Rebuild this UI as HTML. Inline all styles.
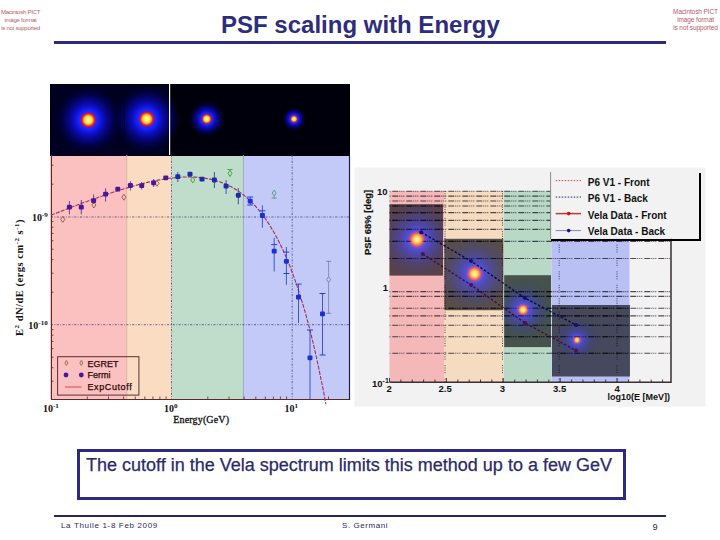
<!DOCTYPE html>
<html><head><meta charset="utf-8">
<style>
html,body{margin:0;padding:0;background:#fff;}
body{width:720px;height:540px;position:relative;overflow:hidden;font-family:"Liberation Sans",sans-serif;}
.abs{position:absolute;white-space:nowrap;}
.pict{position:absolute;color:#b85a6a;font-size:6px;line-height:8px;text-align:center;letter-spacing:-0.25px;}
</style></head><body>
<div class="pict" style="left:-3.5px;top:8px;width:48px;">Macintosh PICT<br>image format<br>is not supported</div>
<div class="pict" style="left:671.5px;top:8px;width:48px;font-size:6.5px;letter-spacing:-0.1px;">Macintosh PICT<br>image format<br>is not supported</div>
<div class="abs" style="left:221px;top:9.5px;font-size:24px;font-weight:bold;color:#2d2d7d;line-height:30px;">PSF scaling with Energy</div>
<div class="abs" style="left:54px;top:41px;width:612px;height:3px;background:#2e2a80;"></div>
<svg width="720" height="540" style="position:absolute;left:0;top:0">
<defs>
<radialGradient id="bl1" gradientUnits="userSpaceOnUse" cx="88.3" cy="120" r="34"><stop offset="0.000" stop-color="#ffffb0" stop-opacity="1"/><stop offset="0.074" stop-color="#fff060" stop-opacity="1"/><stop offset="0.132" stop-color="#ffb030" stop-opacity="1"/><stop offset="0.176" stop-color="#e03018" stop-opacity="1"/><stop offset="0.221" stop-color="#8010a8" stop-opacity="1"/><stop offset="0.265" stop-color="#1828ff" stop-opacity="1"/><stop offset="0.324" stop-color="#1020f0" stop-opacity="1"/><stop offset="0.412" stop-color="#0c10c8" stop-opacity="1"/><stop offset="0.529" stop-color="#080898" stop-opacity="1"/><stop offset="0.676" stop-color="#040468" stop-opacity="0.9"/><stop offset="0.853" stop-color="#000048" stop-opacity="0.5"/><stop offset="1.000" stop-color="#000030" stop-opacity="0"/></radialGradient><radialGradient id="bl2" gradientUnits="userSpaceOnUse" cx="146.7" cy="119" r="34"><stop offset="0.000" stop-color="#ffffb0" stop-opacity="1"/><stop offset="0.074" stop-color="#fff060" stop-opacity="1"/><stop offset="0.132" stop-color="#ffb030" stop-opacity="1"/><stop offset="0.176" stop-color="#e03018" stop-opacity="1"/><stop offset="0.221" stop-color="#8010a8" stop-opacity="1"/><stop offset="0.265" stop-color="#1828ff" stop-opacity="1"/><stop offset="0.324" stop-color="#1020f0" stop-opacity="1"/><stop offset="0.412" stop-color="#0c10c8" stop-opacity="1"/><stop offset="0.529" stop-color="#080898" stop-opacity="1"/><stop offset="0.676" stop-color="#040468" stop-opacity="0.9"/><stop offset="0.853" stop-color="#000048" stop-opacity="0.5"/><stop offset="1.000" stop-color="#000030" stop-opacity="0"/></radialGradient><radialGradient id="bl3" gradientUnits="userSpaceOnUse" cx="206.7" cy="119" r="17.82"><stop offset="0.000" stop-color="#ffffb0" stop-opacity="1"/><stop offset="0.095" stop-color="#fff060" stop-opacity="1"/><stop offset="0.172" stop-color="#ffb030" stop-opacity="1"/><stop offset="0.229" stop-color="#e03018" stop-opacity="1"/><stop offset="0.286" stop-color="#8010a8" stop-opacity="1"/><stop offset="0.327" stop-color="#1828ff" stop-opacity="1"/><stop offset="0.380" stop-color="#1020f0" stop-opacity="1"/><stop offset="0.461" stop-color="#0c10c8" stop-opacity="1"/><stop offset="0.569" stop-color="#080898" stop-opacity="1"/><stop offset="0.704" stop-color="#040468" stop-opacity="0.9"/><stop offset="0.865" stop-color="#000048" stop-opacity="0.5"/><stop offset="1.000" stop-color="#000030" stop-opacity="0"/></radialGradient><radialGradient id="bl4" gradientUnits="userSpaceOnUse" cx="294" cy="119" r="11.7"><stop offset="0.000" stop-color="#ffffb0" stop-opacity="1"/><stop offset="0.107" stop-color="#fff060" stop-opacity="1"/><stop offset="0.192" stop-color="#ffb030" stop-opacity="1"/><stop offset="0.256" stop-color="#e03018" stop-opacity="1"/><stop offset="0.321" stop-color="#8010a8" stop-opacity="1"/><stop offset="0.359" stop-color="#1828ff" stop-opacity="1"/><stop offset="0.410" stop-color="#1020f0" stop-opacity="1"/><stop offset="0.487" stop-color="#0c10c8" stop-opacity="1"/><stop offset="0.590" stop-color="#080898" stop-opacity="1"/><stop offset="0.718" stop-color="#040468" stop-opacity="0.9"/><stop offset="0.872" stop-color="#000048" stop-opacity="0.5"/><stop offset="1.000" stop-color="#000030" stop-opacity="0"/></radialGradient><clipPath id="cp1"><rect x="389.5" y="204.2" width="53.5" height="71.4"/></clipPath><radialGradient id="blp1" gradientUnits="userSpaceOnUse" cx="417" cy="239.5" r="46.0"><stop offset="0.000" stop-color="#fff8b8" stop-opacity="1"/><stop offset="0.054" stop-color="#ffe078" stop-opacity="1"/><stop offset="0.091" stop-color="#ffb050" stop-opacity="1"/><stop offset="0.126" stop-color="#f07050" stop-opacity="1"/><stop offset="0.163" stop-color="#a050c0" stop-opacity="0.9"/><stop offset="0.217" stop-color="#5050f0" stop-opacity="0.85"/><stop offset="0.348" stop-color="#4848e0" stop-opacity="0.6"/><stop offset="0.565" stop-color="#4040c0" stop-opacity="0.3"/><stop offset="0.826" stop-color="#383898" stop-opacity="0.08"/><stop offset="1.000" stop-color="#303080" stop-opacity="0"/></radialGradient><clipPath id="cp2"><rect x="444.3" y="238.8" width="59" height="71.4"/></clipPath><radialGradient id="blp2" gradientUnits="userSpaceOnUse" cx="474.6" cy="273.8" r="43.699999999999996"><stop offset="0.000" stop-color="#fff8b8" stop-opacity="1"/><stop offset="0.054" stop-color="#ffe078" stop-opacity="1"/><stop offset="0.091" stop-color="#ffb050" stop-opacity="1"/><stop offset="0.126" stop-color="#f07050" stop-opacity="1"/><stop offset="0.163" stop-color="#a050c0" stop-opacity="0.9"/><stop offset="0.217" stop-color="#5050f0" stop-opacity="0.85"/><stop offset="0.348" stop-color="#4848e0" stop-opacity="0.6"/><stop offset="0.565" stop-color="#4040c0" stop-opacity="0.3"/><stop offset="0.826" stop-color="#383898" stop-opacity="0.08"/><stop offset="1.000" stop-color="#303080" stop-opacity="0"/></radialGradient><clipPath id="cp3"><rect x="504.2" y="275.2" width="46.8" height="71.9"/></clipPath><radialGradient id="blp3" gradientUnits="userSpaceOnUse" cx="523" cy="309.8" r="32.199999999999996"><stop offset="0.000" stop-color="#fff8b8" stop-opacity="1"/><stop offset="0.054" stop-color="#ffe078" stop-opacity="1"/><stop offset="0.091" stop-color="#ffb050" stop-opacity="1"/><stop offset="0.126" stop-color="#f07050" stop-opacity="1"/><stop offset="0.163" stop-color="#a050c0" stop-opacity="0.9"/><stop offset="0.217" stop-color="#5050f0" stop-opacity="0.85"/><stop offset="0.348" stop-color="#4848e0" stop-opacity="0.6"/><stop offset="0.565" stop-color="#4040c0" stop-opacity="0.3"/><stop offset="0.826" stop-color="#383898" stop-opacity="0.08"/><stop offset="1.000" stop-color="#303080" stop-opacity="0"/></radialGradient><clipPath id="cp4"><rect x="552" y="305" width="78" height="71.5"/></clipPath><radialGradient id="blp4" gradientUnits="userSpaceOnUse" cx="577" cy="340" r="22.08"><stop offset="0.000" stop-color="#fff8b8" stop-opacity="1"/><stop offset="0.054" stop-color="#ffe078" stop-opacity="1"/><stop offset="0.091" stop-color="#ffb050" stop-opacity="1"/><stop offset="0.126" stop-color="#f07050" stop-opacity="1"/><stop offset="0.163" stop-color="#a050c0" stop-opacity="0.9"/><stop offset="0.217" stop-color="#5050f0" stop-opacity="0.85"/><stop offset="0.348" stop-color="#4848e0" stop-opacity="0.6"/><stop offset="0.565" stop-color="#4040c0" stop-opacity="0.3"/><stop offset="0.826" stop-color="#383898" stop-opacity="0.08"/><stop offset="1.000" stop-color="#303080" stop-opacity="0"/></radialGradient><clipPath id="ovall"><rect x="389.5" y="204.2" width="53.5" height="71.4"/><rect x="444.3" y="238.8" width="59" height="71.4"/><rect x="504.2" y="275.2" width="46.8" height="71.9"/><rect x="552" y="305" width="78" height="71.5"/></clipPath><radialGradient id="blc1" gradientUnits="userSpaceOnUse" cx="417" cy="239.5" r="7.5"><stop offset="0.000" stop-color="#fff8b8" stop-opacity="1"/><stop offset="0.333" stop-color="#ffe078" stop-opacity="1"/><stop offset="0.560" stop-color="#ffb050" stop-opacity="1"/><stop offset="0.773" stop-color="#f07050" stop-opacity="0.9"/><stop offset="1.000" stop-color="#b050a0" stop-opacity="0.0"/></radialGradient><radialGradient id="blc2" gradientUnits="userSpaceOnUse" cx="474.6" cy="273.8" r="7.125"><stop offset="0.000" stop-color="#fff8b8" stop-opacity="1"/><stop offset="0.333" stop-color="#ffe078" stop-opacity="1"/><stop offset="0.560" stop-color="#ffb050" stop-opacity="1"/><stop offset="0.773" stop-color="#f07050" stop-opacity="0.9"/><stop offset="1.000" stop-color="#b050a0" stop-opacity="0.0"/></radialGradient><radialGradient id="blc3" gradientUnits="userSpaceOnUse" cx="523" cy="309.8" r="5.25"><stop offset="0.000" stop-color="#fff8b8" stop-opacity="1"/><stop offset="0.333" stop-color="#ffe078" stop-opacity="1"/><stop offset="0.560" stop-color="#ffb050" stop-opacity="1"/><stop offset="0.773" stop-color="#f07050" stop-opacity="0.9"/><stop offset="1.000" stop-color="#b050a0" stop-opacity="0.0"/></radialGradient><radialGradient id="blc4" gradientUnits="userSpaceOnUse" cx="577" cy="340" r="3.375"><stop offset="0.000" stop-color="#fff8b8" stop-opacity="1"/><stop offset="0.333" stop-color="#ffe078" stop-opacity="1"/><stop offset="0.560" stop-color="#ffb050" stop-opacity="1"/><stop offset="0.773" stop-color="#f07050" stop-opacity="0.9"/><stop offset="1.000" stop-color="#b050a0" stop-opacity="0.0"/></radialGradient>
  <radialGradient id="core"><stop offset="0" stop-color="#ffffa0"/><stop offset="0.6" stop-color="#ffe050"/><stop offset="1" stop-color="#ffa020" stop-opacity="0"/></radialGradient>
  <radialGradient id="red"><stop offset="0" stop-color="#ff8020"/><stop offset="0.5" stop-color="#e03010"/><stop offset="0.8" stop-color="#a01060" stop-opacity="0.8"/><stop offset="1" stop-color="#4010c0" stop-opacity="0"/></radialGradient>
  <radialGradient id="blue"><stop offset="0" stop-color="#2020ff"/><stop offset="0.5" stop-color="#1818e8"/><stop offset="1" stop-color="#0808a0" stop-opacity="0"/></radialGradient>
  <radialGradient id="halo"><stop offset="0" stop-color="#1010b0"/><stop offset="0.5" stop-color="#080870" stop-opacity="0.7"/><stop offset="1" stop-color="#000040" stop-opacity="0"/></radialGradient>
  <radialGradient id="pcore"><stop offset="0" stop-color="#ffffc0"/><stop offset="0.5" stop-color="#ffe070"/><stop offset="1" stop-color="#ff9030" stop-opacity="0"/></radialGradient>
  <radialGradient id="pglow"><stop offset="0" stop-color="#ff6040"/><stop offset="0.3" stop-color="#d04080" stop-opacity="0.9"/><stop offset="0.6" stop-color="#4040ff" stop-opacity="0.7"/><stop offset="1" stop-color="#3030c0" stop-opacity="0"/></radialGradient>
</defs>
<!-- left chart top image strip -->
<rect x="50" y="84" width="300" height="72" fill="#00000c"/>
<rect x="50" y="84" width="119" height="72" fill="#000020"/>

<circle cx="88.3" cy="120" r="34" fill="url(#bl1)"/>
<circle cx="146.7" cy="119" r="34" fill="url(#bl2)"/>
<circle cx="206.7" cy="119" r="17.82" fill="url(#bl3)"/>
<circle cx="294" cy="119" r="11.7" fill="url(#bl4)"/>
<rect x="169" y="84" width="1.2" height="71" fill="#fff"/><rect x="124" y="84" width="1" height="71" fill="#000010" opacity="0.5"/>

<!-- left chart bands -->
<rect x="50" y="156" width="76.7" height="243" fill="#fbc0c0"/>
<rect x="126.7" y="156" width="44.5" height="243" fill="#fadcc3"/>
<rect x="171.2" y="156" width="72.1" height="243" fill="#c0dccb"/>
<rect x="243.3" y="156" width="105.9" height="243" fill="#c3caf8"/>
<line x1="126.7" y1="155" x2="126.7" y2="399" stroke="#d8a898" stroke-width="0.8"/>
<line x1="243.4" y1="155" x2="243.4" y2="399" stroke="#90a8b8" stroke-width="0.9"/>
<g stroke="#404078" stroke-width="0.8" stroke-dasharray="2,1.5,0.8,1.5" fill="none">
  <line x1="51" y1="217" x2="349" y2="217"/>
  <line x1="51" y1="324.7" x2="349" y2="324.7"/>
  <line x1="171.5" y1="155" x2="171.5" y2="399"/>
  <line x1="292.2" y1="155" x2="292.2" y2="399"/>
</g>
<g stroke="#5a2a2a" stroke-width="1" fill="none">
  <line x1="51.5" y1="155" x2="51.5" y2="400"/>
  <line x1="51" y1="399.5" x2="349" y2="399.5"/>
  <line x1="349.5" y1="156" x2="349.5" y2="400" stroke="#202040" stroke-width="1.2"/>
</g>

<path d="M51,292.2h2.5 M51,273.2h2.5 M51,259.7h2.5 M51,249.2h2.5 M51,240.7h2.5 M51,233.4h2.5 M51,227.2h2.5 M51,221.6h2.5 M51,381.2h2.5 M51,367.7h2.5 M51,357.2h2.5 M51,348.7h2.5 M51,341.4h2.5 M51,335.2h2.5 M51,329.6h2.5 M51,184.2h2.5 M51,165.2h2.5 M87.3,399v-2.5 M108.5,399v-2.5 M123.6,399v-2.5 M135.3,399v-2.5 M144.8,399v-2.5 M152.9,399v-2.5 M159.9,399v-2.5 M166.1,399v-2.5 M207.8,399v-2.5 M229.0,399v-2.5 M244.1,399v-2.5 M255.8,399v-2.5 M265.3,399v-2.5 M273.4,399v-2.5 M280.4,399v-2.5 M286.6,399v-2.5 M328.5,399v-2.5" stroke="#5a2a2a" stroke-width="0.8" fill="none"/>
<path d="M50.9,215.3 L53.3,214.3 L55.7,213.4 L58.1,212.4 L60.5,211.5 L63.0,210.5 L65.4,209.6 L67.8,208.7 L70.2,207.7 L72.6,206.8 L75.0,205.9 L77.4,205.0 L79.8,204.0 L82.3,203.1 L84.7,202.2 L87.1,201.4 L89.5,200.5 L91.9,199.6 L94.3,198.7 L96.7,197.9 L99.1,197.0 L101.6,196.2 L104.0,195.3 L106.4,194.5 L108.8,193.7 L111.2,192.9 L113.6,192.1 L116.0,191.3 L118.4,190.5 L120.8,189.8 L123.3,189.0 L125.7,188.3 L128.1,187.6 L130.5,186.9 L132.9,186.2 L135.3,185.5 L137.7,184.9 L140.1,184.2 L142.6,183.6 L145.0,183.0 L147.4,182.4 L149.8,181.9 L152.2,181.3 L154.6,180.8 L157.0,180.3 L159.4,179.9 L161.9,179.5 L164.3,179.1 L166.7,178.7 L169.1,178.3 L171.5,178.0 L173.9,177.8 L176.3,177.5 L178.7,177.3 L181.1,177.2 L183.6,177.0 L186.0,177.0 L188.4,176.9 L190.8,177.0 L193.2,177.0 L195.6,177.1 L198.0,177.3 L200.4,177.5 L202.9,177.8 L205.3,178.2 L207.7,178.6 L210.1,179.1 L212.5,179.7 L214.9,180.3 L217.3,181.0 L219.7,181.8 L222.2,182.7 L224.6,183.6 L227.0,184.7 L229.4,185.9 L231.8,187.1 L234.2,188.5 L236.6,190.0 L239.0,191.6 L241.4,193.4 L243.9,195.2 L246.3,197.2 L248.7,199.4 L251.1,201.7 L253.5,204.1 L255.9,206.7 L258.3,209.5 L260.7,212.5 L263.2,215.7 L265.6,219.0 L268.0,222.6 L270.4,226.4 L272.8,230.4 L275.2,234.6 L277.6,239.1 L280.0,243.9 L282.5,248.9 L284.9,254.2 L287.3,259.8 L289.7,265.7 L292.1,272.0 L294.5,278.6 L296.9,285.6 L299.3,292.9 L301.7,300.6 L304.2,308.8 L306.6,317.3 L309.0,326.4 L311.4,335.9 L313.8,345.9 L316.2,356.4 L318.6,367.4 L321.0,379.1 L323.5,391.3 L325.9,404.2" fill="none" stroke="#a82c58" stroke-width="1.1" stroke-dasharray="4,1.3"/>
<path d="M62.8,216.4L64.8,219.4L62.8,222.4L60.8,219.4Z" fill="none" stroke="#8a6040" stroke-width="0.9"/>
<path d="M93.9,202L95.9,205L93.9,208L91.9,205Z" fill="none" stroke="#8a6040" stroke-width="0.9"/>
<path d="M123.9,194.2L125.9,197.2L123.9,200.2L121.9,197.2Z" fill="none" stroke="#8a6040" stroke-width="0.9"/>
<path d="M157,180.3L159,183.3L157,186.3L155,183.3Z" fill="none" stroke="#8a6040" stroke-width="0.9"/>
<path d="M192.8,177L194.8,180L192.8,183L190.8,180Z" fill="none" stroke="#38a038" stroke-width="0.9"/>
<path d="M230,170.3L232,173.3L230,176.3L228,173.3Z" fill="none" stroke="#38a038" stroke-width="0.9"/>
<path d="M230,169.5V170.3M230,176.3V177" stroke="#38a038" stroke-width="0.8"/>
<path d="M227.5,169.5h5" stroke="#38a038" stroke-width="0.9"/>
<path d="M274.2,190.1L276.2,193.1L274.2,196.1L272.2,193.1Z" fill="none" stroke="#4a9a7a" stroke-width="0.9"/>
<path d="M274.2,190V190.1M274.2,196.1V198.1" stroke="#4a9a7a" stroke-width="0.8"/>
<path d="M271.7,198.1h5" stroke="#4a9a7a" stroke-width="0.9"/>
<path d="M328.6,276.6L330.6,279.6L328.6,282.6L326.6,279.6Z" fill="none" stroke="#7080a8" stroke-width="0.9"/>
<path d="M328.6,261.3V276.6M328.6,282.6V313.3" stroke="#7080a8" stroke-width="0.8"/>
<path d="M326.1,261.3h5" stroke="#7080a8" stroke-width="0.9"/>
<path d="M326.1,313.3h5" stroke="#7080a8" stroke-width="0.9"/>
<path d="M69.4,201V214.4" stroke="#48189a" stroke-width="0.9" opacity="0.85"/>
<rect x="66.9" y="204.79999999999998" width="5" height="4.8" rx="1.1" fill="#48189a"/>
<path d="M81.3,200V214.4" stroke="#48189a" stroke-width="0.9" opacity="0.85"/>
<rect x="78.8" y="204.79999999999998" width="5" height="4.8" rx="1.1" fill="#48189a"/>
<path d="M93.6,194.4V203.9" stroke="#48189a" stroke-width="0.9" opacity="0.85"/>
<rect x="91.1" y="198.2" width="5" height="4.8" rx="1.1" fill="#48189a"/>
<path d="M105.6,188.3V201.7" stroke="#48189a" stroke-width="0.9" opacity="0.85"/>
<rect x="103.1" y="191.7" width="5" height="4.8" rx="1.1" fill="#48189a"/>
<path d="M117.8,187.5V191" stroke="#48189a" stroke-width="0.9" opacity="0.85"/>
<rect x="115.3" y="186.79999999999998" width="5" height="4.8" rx="1.1" fill="#48189a"/>
<path d="M130.4,181V190.5" stroke="#48189a" stroke-width="0.9" opacity="0.85"/>
<rect x="127.9" y="183.1" width="5" height="4.8" rx="1.1" fill="#48189a"/>
<path d="M141.7,182V189.5" stroke="#48189a" stroke-width="0.9" opacity="0.85"/>
<rect x="139.2" y="183.2" width="5" height="4.8" rx="1.1" fill="#48189a"/>
<path d="M153.6,179V187" stroke="#48189a" stroke-width="0.9" opacity="0.85"/>
<rect x="151.1" y="180.4" width="5" height="4.8" rx="1.1" fill="#48189a"/>
<path d="M165.8,176V180" stroke="#48189a" stroke-width="0.9" opacity="0.85"/>
<rect x="163.3" y="175.4" width="5" height="4.8" rx="1.1" fill="#48189a"/>
<path d="M177.8,172V182" stroke="#1c2aa8" stroke-width="0.9" opacity="0.85"/>
<rect x="175.3" y="174.29999999999998" width="5" height="4.8" rx="1.1" fill="#1c2aa8"/>
<path d="M190,172V177" stroke="#1c2aa8" stroke-width="0.9" opacity="0.85"/>
<rect x="187.5" y="171.79999999999998" width="5" height="4.8" rx="1.1" fill="#1c2aa8"/>
<path d="M202,177V181" stroke="#1c2aa8" stroke-width="0.9" opacity="0.85"/>
<rect x="199.5" y="176.7" width="5" height="4.8" rx="1.1" fill="#1c2aa8"/>
<path d="M214.4,172V188" stroke="#1c2aa8" stroke-width="0.9" opacity="0.85"/>
<rect x="211.9" y="177.6" width="5" height="4.8" rx="1.1" fill="#1c2aa8"/>
<path d="M226.1,180V194" stroke="#1c2aa8" stroke-width="0.9" opacity="0.85"/>
<rect x="223.6" y="183.7" width="5" height="4.8" rx="1.1" fill="#1c2aa8"/>
<path d="M238.3,188V204.4" stroke="#1c2aa8" stroke-width="0.9" opacity="0.85"/>
<rect x="235.8" y="192.9" width="5" height="4.8" rx="1.1" fill="#1c2aa8"/>
<path d="M250.2,197V205" stroke="#1a30d0" stroke-width="0.9" opacity="0.85"/>
<path d="M247.2,197h6" stroke="#1a30d0" stroke-width="0.9"/>
<path d="M247.2,205h6" stroke="#1a30d0" stroke-width="0.9"/>
<rect x="247.7" y="198.79999999999998" width="5" height="4.8" rx="1.1" fill="#1a30d0"/>
<path d="M262.4,205.3V227.7" stroke="#1a30d0" stroke-width="0.9" opacity="0.85"/>
<path d="M259.4,210.8h6" stroke="#1a30d0" stroke-width="0.9"/>
<rect x="259.9" y="213.1" width="5" height="4.8" rx="1.1" fill="#1a30d0"/>
<path d="M274.2,237.9V271.5" stroke="#1a30d0" stroke-width="0.9" opacity="0.85"/>
<path d="M271.2,244.6h6" stroke="#1a30d0" stroke-width="0.9"/>
<rect x="271.7" y="248.7" width="5" height="4.8" rx="1.1" fill="#1a30d0"/>
<path d="M286.4,247V284.7" stroke="#1a30d0" stroke-width="0.9" opacity="0.85"/>
<path d="M283.4,252.1h6" stroke="#1a30d0" stroke-width="0.9"/>
<path d="M283.4,273.5h6" stroke="#1a30d0" stroke-width="0.9"/>
<rect x="283.9" y="258.90000000000003" width="5" height="4.8" rx="1.1" fill="#1a30d0"/>
<path d="M298.5,284.1V323" stroke="#1a30d0" stroke-width="0.9" opacity="0.85"/>
<path d="M295.5,284.1h6" stroke="#1a30d0" stroke-width="0.9"/>
<rect x="296.0" y="294.8" width="5" height="4.8" rx="1.1" fill="#1a30d0"/>
<path d="M310,330V399" stroke="#1a30d0" stroke-width="0.9" opacity="0.85"/>
<path d="M307,330h6" stroke="#1a30d0" stroke-width="0.9"/>
<rect x="307.5" y="355.40000000000003" width="5" height="4.8" rx="1.1" fill="#1a30d0"/>
<path d="M322.5,293.5V355" stroke="#1a30d0" stroke-width="0.9" opacity="0.85"/>
<path d="M319.5,293.5h6" stroke="#1a30d0" stroke-width="0.9"/>
<path d="M319.5,355h6" stroke="#1a30d0" stroke-width="0.9"/>
<rect x="320.0" y="311.5" width="5" height="4.8" rx="1.1" fill="#1a30d0"/>
<rect x="57.6" y="356.7" width="81.3" height="38.4" fill="none" stroke="#5a3030" stroke-width="1"/>
<path d="M66.4,360v0M66.4,360.5l1.5,2.5l-1.5,2.5l-1.5,-2.5z M81.3,360.5l1.5,2.5l-1.5,2.5l-1.5,-2.5z" fill="none" stroke="#806040" stroke-width="0.8"/>
<circle cx="66" cy="375" r="2.4" fill="#48189a"/><circle cx="81.3" cy="375" r="2.4" fill="#48189a"/>
<line x1="65" y1="387" x2="81.5" y2="387" stroke="#e07080" stroke-width="1.5"/>
<g font-family="Liberation Sans" font-size="9" fill="#2a0808" stroke="#2a0808" stroke-width="0.25">
<text x="87.5" y="366.7">EGRET</text>
<text x="87.5" y="377.8">Fermi</text>
<text x="87.5" y="389.6" letter-spacing="0.6">ExpCutoff</text>
</g>
<g font-family="Liberation Serif" font-size="10" fill="#111" font-weight="bold">
<text x="43" y="411.7">10<tspan font-size="7" dy="-4">-1</tspan></text>
<text x="164" y="411.7">10<tspan font-size="7" dy="-4">0</tspan></text>
<text x="284.4" y="411.7">10<tspan font-size="7" dy="-4">1</tspan></text>
<text x="173.3" y="423.3" font-size="10" font-weight="normal" stroke="#111" stroke-width="0.3" letter-spacing="0.15">Energy(GeV)</text>
<text x="32" y="221">10<tspan font-size="7" dy="-4">-9</tspan></text>
<text x="28.3" y="328.6">10<tspan font-size="7" dy="-4">-10</tspan></text>
<text transform="translate(23,336) rotate(-90)" font-weight="bold" font-size="10.5" letter-spacing="0.5">E<tspan font-size="7" dy="-4">2</tspan><tspan dy="4"> dN/dE (ergs cm</tspan><tspan font-size="7" dy="-4">-2</tspan><tspan dy="4"> s</tspan><tspan font-size="7" dy="-4">-1</tspan><tspan dy="4">)</tspan></text>
</g>

<rect x="354.5" y="167.5" width="351" height="239" fill="#f2f2f2"/>
<rect x="389.5" y="191" width="54.5" height="191" fill="#f5b8b8"/>
<rect x="444" y="191" width="59.8" height="191" fill="#f5dbbf"/>
<rect x="503.8" y="191" width="47.7" height="191" fill="#b8d9c6"/>
<rect x="551.5" y="191" width="78.2" height="191" fill="#b9c0f3"/>
<rect x="629.7" y="191" width="41.3" height="191" fill="#f2f2f2"/>
<g stroke="#100818" stroke-width="1.1" stroke-dasharray="6,1,1,1,1,1,1,2" stroke-dashoffset="11.2" fill="none" opacity="0.72">
<line x1="389.5" y1="191.2" x2="671" y2="191.2"/>
<line x1="389.5" y1="196.1" x2="671" y2="196.1"/>
<line x1="389.5" y1="201" x2="671" y2="201"/>
<line x1="389.5" y1="206" x2="671" y2="206"/>
<line x1="389.5" y1="212.6" x2="671" y2="212.6"/>
<line x1="389.5" y1="220.4" x2="671" y2="220.4"/>
<line x1="389.5" y1="229.4" x2="671" y2="229.4"/>
<line x1="389.5" y1="241.4" x2="671" y2="241.4"/>
<line x1="389.5" y1="258.5" x2="671" y2="258.5"/>
<line x1="389.5" y1="291.6" x2="671" y2="291.6"/>
<line x1="389.5" y1="296.4" x2="671" y2="296.4"/>
<line x1="389.5" y1="308.3" x2="671" y2="308.3"/>
<line x1="389.5" y1="315.9" x2="671" y2="315.9"/>
<line x1="389.5" y1="325.3" x2="671" y2="325.3"/>
<line x1="389.5" y1="336.7" x2="671" y2="336.7"/>
<line x1="389.5" y1="353.3" x2="671" y2="353.3"/>
</g>
<g stroke="#101040" stroke-width="1" stroke-dasharray="1,1.3,1,1.3,1,1.3,1,5.5" fill="none" opacity="0.75">
<line x1="445" y1="191" x2="445" y2="382"/>
<line x1="502.5" y1="191" x2="502.5" y2="382"/>
<line x1="559.2" y1="191" x2="559.2" y2="382"/>
<line x1="617" y1="191" x2="617" y2="382"/>
</g>
<rect x="389.5" y="204.2" width="53.5" height="71.4" fill="#000" opacity="0.63"/>
<rect x="444.3" y="238.8" width="59" height="71.4" fill="#000" opacity="0.63"/>
<rect x="504.2" y="275.2" width="46.8" height="71.9" fill="#000" opacity="0.62"/>
<rect x="552" y="305" width="78" height="71.5" fill="#000" opacity="0.62"/>
<g clip-path="url(#cp1)"><circle cx="417" cy="239.5" r="46.0" fill="url(#blp1)"/></g>
<g clip-path="url(#cp2)"><circle cx="474.6" cy="273.8" r="43.699999999999996" fill="url(#blp2)"/></g>
<g clip-path="url(#cp3)"><circle cx="523" cy="309.8" r="32.199999999999996" fill="url(#blp3)"/></g>
<g clip-path="url(#cp4)"><circle cx="577" cy="340" r="22.08" fill="url(#blp4)"/></g>
<g clip-path="url(#ovall)" stroke="#000008" stroke-width="1.1" stroke-dasharray="6,1,1,1,1,1,1,2" stroke-dashoffset="11.2" fill="none" opacity="0.6">
<line x1="389.5" y1="191.2" x2="671" y2="191.2"/>
<line x1="389.5" y1="196.1" x2="671" y2="196.1"/>
<line x1="389.5" y1="201" x2="671" y2="201"/>
<line x1="389.5" y1="206" x2="671" y2="206"/>
<line x1="389.5" y1="212.6" x2="671" y2="212.6"/>
<line x1="389.5" y1="220.4" x2="671" y2="220.4"/>
<line x1="389.5" y1="229.4" x2="671" y2="229.4"/>
<line x1="389.5" y1="241.4" x2="671" y2="241.4"/>
<line x1="389.5" y1="258.5" x2="671" y2="258.5"/>
<line x1="389.5" y1="291.6" x2="671" y2="291.6"/>
<line x1="389.5" y1="296.4" x2="671" y2="296.4"/>
<line x1="389.5" y1="308.3" x2="671" y2="308.3"/>
<line x1="389.5" y1="315.9" x2="671" y2="315.9"/>
<line x1="389.5" y1="325.3" x2="671" y2="325.3"/>
<line x1="389.5" y1="336.7" x2="671" y2="336.7"/>
<line x1="389.5" y1="353.3" x2="671" y2="353.3"/>
</g>
<circle cx="417" cy="239.5" r="7.5" fill="url(#blc1)"/>
<circle cx="474.6" cy="273.8" r="7.125" fill="url(#blc2)"/>
<circle cx="523" cy="309.8" r="5.25" fill="url(#blc3)"/>
<circle cx="577" cy="340" r="3.375" fill="url(#blc4)"/>
<path d="M389.5,382.2H671V191" stroke="#383030" stroke-width="1.5" fill="none"/>
<path d="M389.5,382v-4 M400.9,382v-2.5 M412.3,382v-2.5 M423.6,382v-2.5 M435.0,382v-2.5 M446.4,382v-4 M457.8,382v-2.5 M469.2,382v-2.5 M480.5,382v-2.5 M491.9,382v-2.5 M503.3,382v-4 M514.7,382v-2.5 M526.1,382v-2.5 M537.4,382v-2.5 M548.8,382v-2.5 M560.2,382v-4 M571.6,382v-2.5 M583.0,382v-2.5 M594.3,382v-2.5 M605.7,382v-2.5 M617.1,382v-4 M628.5,382v-2.5 M639.9,382v-2.5 M651.2,382v-2.5 M662.6,382v-2.5" stroke="#301010" stroke-width="0.8" fill="none"/>
<path d="M421.2,232.3L471.1,261.1L525,298.1L576,325" stroke="#0a0a40" stroke-width="1.4" stroke-dasharray="2.5,1.8" fill="none"/>
<path d="M422.8,254L471.1,285L525,323L576,350.5" stroke="#401030" stroke-width="1.4" stroke-dasharray="2.5,1.8" fill="none"/>
<circle cx="421.2" cy="232.3" r="2" fill="#101070"/>
<circle cx="471.1" cy="261.1" r="2" fill="#101070"/>
<circle cx="525" cy="298.1" r="2" fill="#101070"/>
<circle cx="576" cy="325" r="2" fill="#101070"/>
<circle cx="422.8" cy="254" r="2" fill="#501050"/>
<circle cx="471.1" cy="285" r="2" fill="#501050"/>
<circle cx="525" cy="323" r="2" fill="#501050"/>
<circle cx="576" cy="350.5" r="2" fill="#501050"/>
<rect x="550.4" y="171.8" width="149.6" height="67" fill="#f2f2f2"/><line x1="550.6" y1="172" x2="550.6" y2="239" stroke="#707070" stroke-width="0.8"/>
<path d="M700,173V240H551" stroke="#000" stroke-width="2" fill="none"/>
<line x1="555.7" y1="180.6" x2="581" y2="180.6" stroke="#d03030" stroke-width="0.9" stroke-dasharray="1.5,1.5"/>
<line x1="555.7" y1="197.1" x2="581" y2="197.1" stroke="#101060" stroke-width="0.9" stroke-dasharray="1.5,1.5"/>
<line x1="555.7" y1="213.6" x2="581" y2="213.6" stroke="#d03030" stroke-width="1.5"/><circle cx="568.7" cy="213.6" r="1.8" fill="#d01010"/>
<line x1="555.7" y1="230.6" x2="581" y2="230.6" stroke="#8080c0" stroke-width="1"/><circle cx="568.7" cy="230.6" r="1.8" fill="#1010a0"/>
<g font-family="Liberation Sans" font-weight="bold" font-size="10" fill="#111">
<text x="587.8" y="185.8">P6 V1 - Front</text>
<text x="587.8" y="202.4">P6 V1 - Back</text>
<text x="587.8" y="218.8">Vela Data - Front</text>
<text x="587.8" y="235.3">Vela Data - Back</text>
</g>
<g font-family="Liberation Sans" font-weight="bold" font-size="9.5" fill="#111">
<text x="377" y="194.7">10</text>
<text x="382.8" y="290.6">1</text>
<text x="372" y="386.7">10<tspan font-size="7" dy="-4">-1</tspan></text>
<text x="386.5" y="391.7">2</text>
<text x="438.5" y="391.7">2.5</text>
<text x="499.8" y="391.7">3</text>
<text x="553" y="391.7">3.5</text>
<text x="614.6" y="391.7">4</text>
<text x="607.4" y="400.3" font-size="9">log10(E [MeV])</text>
<text transform="translate(371,255) rotate(-90)" font-size="9.4" stroke="#111" stroke-width="0.2">PSF 68% [deg]</text>
</g>

</svg>
<div class="abs" style="left:77px;top:449px;width:543px;height:45px;border:3px solid #2e2a80;"></div>
<div class="abs" style="left:86px;top:455px;font-size:18px;color:#2a2a6a;line-height:20px;-webkit-text-stroke:0.25px #2a2a6a;">The cutoff in the Vela spectrum limits this method up to a few GeV</div>
<div class="abs" style="left:54px;top:515px;width:612px;height:2px;background:#2a2560;"></div>
<div class="abs" style="left:61px;top:520.6px;font-size:8px;color:#2a2a5a;letter-spacing:0.65px;line-height:10px;">La Thuile 1-8 Feb 2009</div>
<div class="abs" style="left:342px;top:520.6px;font-size:8px;color:#2a2a5a;letter-spacing:0.55px;line-height:10px;">S. Germani</div>
<div class="abs" style="left:652.6px;top:522px;font-size:9.2px;color:#2a2a5a;line-height:10px;">9</div>
</body></html>
